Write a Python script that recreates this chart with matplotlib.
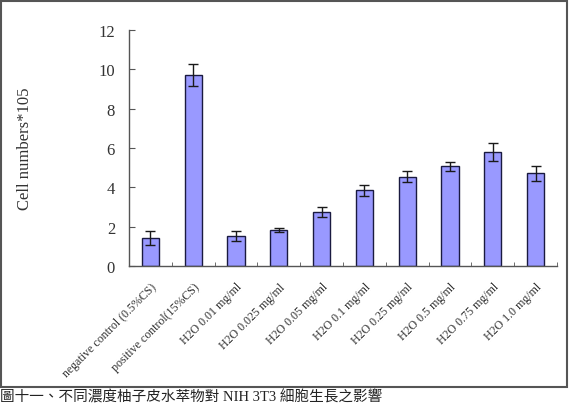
import numpy as np
import matplotlib.pyplot as plt
from matplotlib.patches import Rectangle
from matplotlib.transforms import ScaledTranslation

categories = ['negative control (0.5%CS)', 'positive control(15%CS)',
              'H2O 0.01 mg/ml', 'H2O 0.025 mg/ml', 'H2O 0.05 mg/ml',
              'H2O 0.1 mg/ml', 'H2O 0.25 mg/ml', 'H2O 0.5 mg/ml',
              'H2O 0.75 mg/ml', 'H2O 1.0 mg/ml']
means = [1.43, 9.70, 1.53, 1.83, 2.74, 3.86, 4.55, 5.07, 5.79, 4.71]
errors = [0.34, 0.57, 0.27, 0.11, 0.26, 0.28, 0.27, 0.22, 0.47, 0.37]
yticks = [0, 2, 4, 6, 8, 10, 12]
caption = '圖十一、不同濃度柚子皮水萃物對 NIH 3T3 細胞生長之影響'

plt.rcParams['font.family'] = ['Liberation Serif', 'Noto Sans CJK TC', 'DejaVu Sans']

fig = plt.figure(figsize=(5.72, 4.06), dpi=100)
ax = fig.add_axes([129/572, 1 - 267/406, (557 - 129)/572, (267 - 31)/406])

x = np.arange(len(categories))
ax.bar(x, means, width=0.4, color='#9999FF', edgecolor='#1a1a40', linewidth=1.0,
       yerr=errors, capsize=3.5, error_kw=dict(ecolor='#1a1a1a', elinewidth=1.0, capthick=1.0))

ax.set_xlim(-0.5, len(categories) - 0.5)
ax.set_ylim(0, 12)
ax.set_yticks(yticks)
ax.set_yticklabels([str(t) for t in yticks], fontsize=12, color='#333333')
ax.set_xticks(x)
ax.set_xticklabels(categories, rotation=45, ha='right', va='top',
                   rotation_mode='anchor', fontsize=8.6, color='#333333')
# labels sit a little left of the bar centre, like the original
shift = ScaledTranslation(-7/100, 0, fig.dpi_scale_trans)
for lab in ax.get_xticklabels():
    lab.set_transform(lab.get_transform() + shift)
ax.tick_params(axis='x', length=0, pad=10.5)
ax.set_xticks(np.arange(len(categories)) + 0.5, minor=True)
ax.tick_params(axis='x', which='minor', direction='in', length=3, color='#555555')
ax.tick_params(axis='y', direction='in', length=4, color='#555555', pad=10)
ax.set_ylabel('Cell numbers*105', fontsize=12, color='#333333')
ax.yaxis.set_label_coords((33 - 129)/428, 0.5)

for s in ['top', 'right']:
    ax.spines[s].set_visible(False)
for s in ['left', 'bottom']:
    ax.spines[s].set_color('#555555')
    ax.spines[s].set_linewidth(1.0)

# outer frame
fig.patches.append(Rectangle((1/572, 1 - 388/406), 566/572, 386/406,
                             transform=fig.transFigure, fill=False,
                             edgecolor='#555555', linewidth=1.5))

fig.text(0.0, 1 - 390/406, caption, fontsize=10.5, va='top', ha='left', color='#222222')

fig.savefig('out.png', dpi=100)
